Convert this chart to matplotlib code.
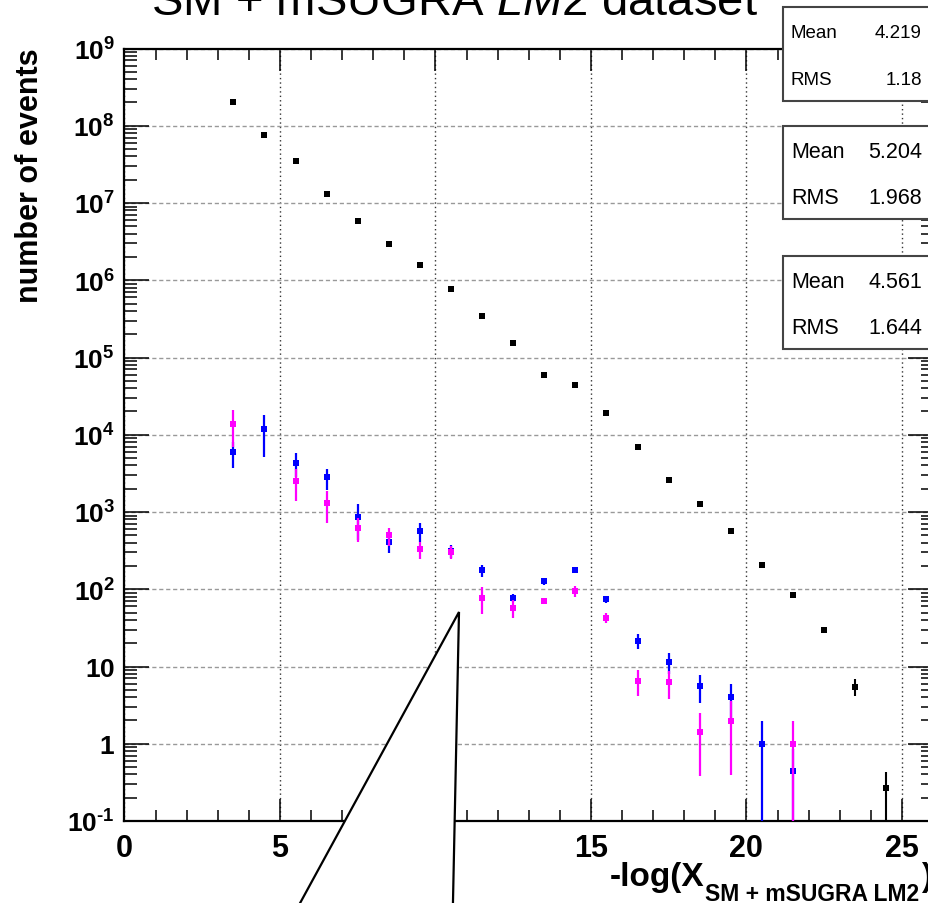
import numpy as np
import matplotlib
matplotlib.use('Agg')
import matplotlib.pyplot as plt
from matplotlib.ticker import FixedLocator, FixedFormatter, LogLocator, NullFormatter, MultipleLocator
from matplotlib.patches import Polygon, Rectangle

plt.rcParams['font.family'] = ['Liberation Sans', 'DejaVu Sans']
plt.rcParams['mathtext.fontset'] = 'custom'
plt.rcParams['mathtext.rm'] = 'Liberation Sans'
plt.rcParams['mathtext.it'] = 'Liberation Sans:italic'
plt.rcParams['mathtext.bf'] = 'Liberation Sans:bold'

# ---------------- data ----------------
bins_all = [3.5, 4.5, 5.5, 6.5, 7.5, 8.5, 9.5, 10.5, 11.5, 12.5, 13.5, 14.5,
            15.5, 16.5, 17.5, 18.5, 19.5, 20.5, 21.5, 22.5, 23.5, 24.5]
sm_counts = [2.0e8, 7.5e7, 3.5e7, 1.32e7, 5.9e6, 2.98e6, 1.56e6, 7.8e5, 3.4e5,
             1.54e5, 5.9e4, 4.4e4, 1.9e4, 6.9e3, 2.56e3, 1.28e3, 565, 203, 85,
             29.8, 5.5, 0.267]
sm_err = [1e6, 5e5, 3e5, 1e5, 5e4, 2e4, 1e4, 5e3, 2e3, 1e3, 400, 300, 150, 80,
          40, 30, 20, 10, 6, 3, 1.4, 0.17]

bins_sig = [3.5, 4.5, 5.5, 6.5, 7.5, 8.5, 9.5, 10.5, 11.5, 12.5, 13.5, 14.5,
            15.5, 16.5, 17.5, 18.5, 19.5, 20.5, 21.5]
blue_counts = [5.9e3, 1.17e4, 4.3e3, 2.8e3, 849, 411, 565, 317, 175, 78, 127,
               178, 75, 21.5, 11.4, 5.56, 4.0, 1.0, 0.445]
blue_err = [2.2e3, 6.5e3, 1.5e3, 850, 420, 115, 150, 60, 30, 10, 12, 15, 8,
            4.5, 3.5, 2.2, 1.9, 0.97, 0.42]
magenta_counts = [1.39e4, np.nan, 2.5e3, 1.29e3, 624, 497, 330, 303, 77.4, 57.5,
                  70.8, 94.4, 43, 6.5, 6.25, 1.43, 1.99, np.nan, 1.0]
magenta_err = [7e3, np.nan, 1.1e3, 570, 220, 130, 80, 55, 30, 15, 7, 16, 6,
               2.4, 2.45, 1.05, 1.6, np.nan, 0.97]

x_ticks = [0, 5, 10, 15, 20, 25]
x_ticklabels = ['0', '5', '10', '15', '20', '25']
y_ticks = [1e-1, 1, 10, 1e2, 1e3, 1e4, 1e5, 1e6, 1e7, 1e8, 1e9]
y_ticklabels = ['$\\mathbf{10^{\u2010 1}}$', r'$\mathbf{1}$', r'$\mathbf{10}$',
                r'$\mathbf{10^{2}}$', r'$\mathbf{10^{3}}$', r'$\mathbf{10^{4}}$',
                r'$\mathbf{10^{5}}$', r'$\mathbf{10^{6}}$', r'$\mathbf{10^{7}}$',
                r'$\mathbf{10^{8}}$', r'$\mathbf{10^{9}}$']

stats = [("4.219", "1.18"), ("5.204", "1.968"), ("4.561", "1.644")]

# ---------------- figure ----------------
W, H = 929, 904
fig = plt.figure(figsize=(W / 100, H / 100), dpi=100)
left, right, top, bottom = 124.5, 933, 49.5, 822
ax = fig.add_axes([left / W, (H - bottom) / H, (right - left) / W, (bottom - top) / H])
ax.set_yscale('log')
ax.set_xlim(0, 26)
ax.set_ylim(0.1, 1e9)

ax.set_axisbelow(True)
ax.xaxis.set_major_locator(FixedLocator(x_ticks))
ax.xaxis.set_major_formatter(FixedFormatter(x_ticklabels))
ax.xaxis.set_minor_locator(MultipleLocator(1))
ax.yaxis.set_major_locator(FixedLocator(y_ticks))
ax.yaxis.set_major_formatter(FixedFormatter(y_ticklabels))
ax.yaxis.set_minor_locator(LogLocator(base=10, subs=np.arange(2, 10), numticks=30))
ax.yaxis.set_minor_formatter(NullFormatter())
ax.grid(axis='x', which='major', color='#333333', linestyle=(0, (1, 2.2)), linewidth=1.0)
ax.grid(axis='y', which='major', color='#999999', linestyle=(0, (3, 2)), linewidth=1.0)

for s in ax.spines.values():
    s.set_linewidth(1.6)

ax.tick_params(axis='x', which='major', direction='in', length=16, width=1.1,
               top=True, bottom=True, pad=9, labelsize=22)
ax.tick_params(axis='x', which='minor', direction='in', length=8, width=1.1,
               top=True, bottom=True)
ax.tick_params(axis='y', which='major', direction='in', length=18, width=1.1,
               left=True, right=True, pad=7, labelsize=19)
ax.tick_params(axis='y', which='minor', direction='in', length=9, width=1.1,
               left=True, right=True)
for lab in ax.get_xticklabels():
    lab.set_fontweight('bold')

# data
ax.errorbar(bins_all, sm_counts, yerr=sm_err, fmt='s', color='black', ms=4.8,
            mew=0, elinewidth=1.5, capsize=0, zorder=3)
ax.errorbar(bins_sig, blue_counts, yerr=blue_err, fmt='s', color='#0000ff', ms=5,
            mew=0, elinewidth=1.6, capsize=0, zorder=4)
ax.errorbar(bins_sig, magenta_counts, yerr=magenta_err, fmt='s', color='#ff00ff',
            ms=5, mew=0, elinewidth=1.6, capsize=0, zorder=5)

# axis labels
fig.text(30 / W, 1 - 176 / H, 'number of events', rotation=90, fontsize=22,
         fontweight='bold', ha='center', va='center')
fig.text(704 / W, 1 - 886 / H, '-log(X', fontsize=24, fontweight='bold',
         ha='right', va='baseline')
fig.text(705 / W, 1 - 901 / H, 'SM + mSUGRA LM2', fontsize=16.5, fontweight='bold',
         ha='left', va='baseline')
fig.text(921 / W, 1 - 886 / H, ')', fontsize=24, fontweight='bold',
         ha='left', va='baseline')

# title (partially cut at top)
fig.text(151 / W, 1 - 15 / H, r'SM + mSUGRA $\mathit{LM2}$ dataset', fontsize=34,
         ha='left', va='baseline')

# stats boxes
boxes = [(8, 102, 13.5), (127, 220, 15.5), (257, 350, 15.5)]
for (y0, y1, fs), (mean, rms) in zip(boxes, stats):
    rect = Rectangle((783 / W, 1 - y1 / H), (960 - 783) / W, (y1 - y0) / H,
                     transform=fig.transFigure, facecolor='white',
                     edgecolor='#444444', linewidth=1.5, zorder=20)
    fig.add_artist(rect)
    yr1 = y0 + (y1 - y0) * 0.27
    yr2 = y0 + (y1 - y0) * 0.77
    fig.text(791 / W, 1 - yr1 / H, 'Mean', fontsize=fs, ha='left', va='center', zorder=21)
    fig.text(922 / W, 1 - yr1 / H, mean, fontsize=fs, ha='right', va='center', zorder=21)
    fig.text(791 / W, 1 - yr2 / H, 'RMS', fontsize=fs, ha='left', va='center', zorder=21)
    fig.text(922 / W, 1 - yr2 / H, rms, fontsize=fs, ha='right', va='center', zorder=21)

# callout tail (white polygon with black outline)
tail = Polygon([(459 / W, 1 - 613 / H), (275 / W, 1 - 950 / H), (452 / W, 1 - 950 / H)],
               closed=True, transform=fig.transFigure, facecolor='white',
               edgecolor='black', linewidth=1.6, zorder=15, clip_on=False)
fig.add_artist(tail)

fig.savefig('out.png', dpi=100)
